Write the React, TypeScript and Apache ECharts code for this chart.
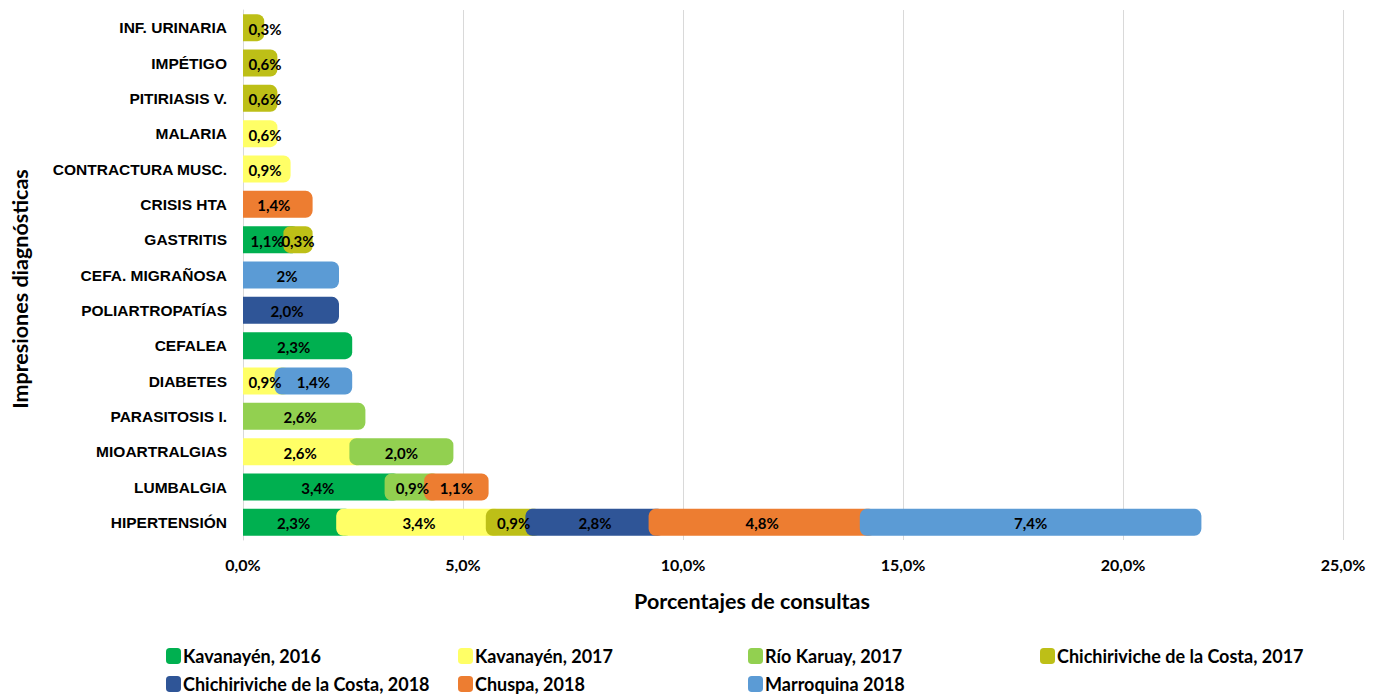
import React, { useEffect, useRef } from "react";
import * as echarts from "echarts";

const categories = [
  "HIPERTENSIÓN",
  "LUMBALGIA",
  "MIOARTRALGIAS",
  "PARASITOSIS I.",
  "DIABETES",
  "CEFALEA",
  "POLIARTROPATÍAS",
  "CEFA. MIGRAÑOSA",
  "GASTRITIS",
  "CRISIS HTA",
  "CONTRACTURA MUSC.",
  "MALARIA",
  "PITIRIASIS V.",
  "IMPÉTIGO",
  "INF. URINARIA",
];

const seriesNames = [
  "Kavanayén, 2016",
  "Kavanayén, 2017",
  "Río Karuay, 2017",
  "Chichiriviche de la Costa, 2017",
  "Chichiriviche de la Costa, 2018",
  "Chuspa, 2018",
  "Marroquina 2018",
];

const kavanayen2016 = [2.3, 3.4, null, null, null, 2.3, null, null, 1.1, null, null, null, null, null, null];
const kavanayen2017 = [3.4, null, 2.6, null, 0.9, null, null, null, null, null, 0.9, 0.6, null, null, null];
const rioKaruay2017 = [null, 0.9, 2.0, 2.6, null, null, null, null, null, null, null, null, null, null, null];
const chichiriviche2017 = [0.9, null, null, null, null, null, null, null, 0.3, null, null, null, 0.6, 0.6, 0.3];
const chichiriviche2018 = [2.8, null, null, null, null, null, 2.0, null, null, null, null, null, null, null, null];
const chuspa2018 = [4.8, 1.1, null, null, null, null, null, null, null, 1.4, null, null, null, null, null];
const marroquina2018 = [7.4, null, null, null, 1.4, null, null, 2.0, null, null, null, null, null, null, null];

// label text overrides (the source shows "2%" for this one)
const labelOverrides: Record<string, string> = {
  "Marroquina 2018|CEFA. MIGRAÑOSA": "2%",
};

const xTicks = { min: 0, max: 25, interval: 5 };

const colors = ["#00B050", "#FFFF66", "#92D050", "#BDBF17", "#2F5597", "#ED7D31", "#5B9BD5"];

const legendPos = [
  [166, 647],
  [458, 647],
  [748, 647],
  [1040, 647],
  [166, 675],
  [458, 675],
  [748, 675],
];

const allSeries = [
  kavanayen2016,
  kavanayen2017,
  rioKaruay2017,
  chichiriviche2017,
  chichiriviche2018,
  chuspa2018,
  marroquina2018,
];

const fmt = (v: number) => v.toFixed(1).replace(".", ",") + "%";

export default function App() {
  const ref = useRef<HTMLDivElement>(null);
  useEffect(() => {
    document.body.style.margin = "0";
    if (!ref.current) return;
    const chart = echarts.init(ref.current, null, { renderer: "svg" });

    const offsets = categories.map(() => 0);
    const series = allSeries.map((arr, si) => {
      const data: any[] = [];
      arr.forEach((v, ci) => {
        if (v != null) {
          const key = seriesNames[si] + "|" + categories[ci];
          data.push({ value: [v, ci, offsets[ci]], label: labelOverrides[key] || fmt(v) });
          offsets[ci] += v;
        }
      });
      return {
        type: "custom",
        name: seriesNames[si],
        itemStyle: { color: colors[si] },
        encode: { x: 0, y: 1 },
        data,
        renderItem: (params: any, api: any) => {
          const val = api.value(0) as number;
          const ci = api.value(1) as number;
          const start = api.value(2) as number;
          const p0 = api.coord([start, ci]);
          const p1 = api.coord([start + val, ci]);
          const axisX = api.coord([0, ci])[0];
          const h = 27;
          const ext = 8;
          const first = start === 0;
          const x0 = first ? p0[0] : p0[0] - ext;
          const x1 = p1[0] + ext;
          const item = data[params.dataIndex];
          const cx = Math.max((p0[0] + p1[0]) / 2, axisX + 22);
          return {
            type: "group",
            children: [
              {
                type: "rect",
                shape: { x: x0, y: p0[1] - h / 2, width: x1 - x0, height: h, r: first ? [0, 7, 7, 0] : 7 },
                style: { fill: colors[si] },
              },
              {
                type: "text",
                x: cx,
                y: p0[1] + 1,
                z2: 100,
                style: {
                  text: item.label,
                  fill: "#000",
                  font: "bold 15px Lato",
                  align: "center",
                  verticalAlign: "middle",
                  textAlign: "center",
                  textVerticalAlign: "middle",
                },
              },
            ],
          };
        },
      };
    });

    const legends = seriesNames.map((name, i) => ({
      data: [name],
      left: legendPos[i][0],
      top: legendPos[i][1],
      padding: 0,
      itemGap: 0,
      itemWidth: 15,
      itemHeight: 16,
      icon: "roundRect",
      selectedMode: false,
      textStyle: {
        fontFamily: "Lato",
        fontWeight: "bold",
        fontSize: 18,
        lineHeight: 18,
        color: "#000",
        padding: [0, 0, 0, -3],
      },
    }));

    chart.setOption({
      animation: false,
      backgroundColor: "#fff",
      grid: { left: 243, right: 37, top: 10, bottom: 156, containLabel: false },
      xAxis: {
        type: "value",
        min: xTicks.min,
        max: xTicks.max,
        interval: xTicks.interval,
        axisLine: { show: false },
        axisTick: { show: false },
        axisLabel: {
          formatter: (v: number) => fmt(v),
          fontFamily: "Lato",
          fontWeight: "bold",
          fontSize: 16,
          color: "#000",
          margin: 16,
        },
        splitLine: { show: true, lineStyle: { color: "#d9d9d9", width: 1 } },
      },
      yAxis: {
        type: "category",
        data: categories,
        axisTick: { show: false },
        axisLine: { show: true, lineStyle: { color: "#d9d9d9" } },
        axisLabel: {
          fontFamily: "Liberation Sans",
          fontWeight: "bold",
          fontSize: 15.5,
          color: "#000",
          margin: 16,
        },
        splitLine: { show: false },
      },
      legend: legends,
      graphic: [
        {
          type: "text",
          x: 20,
          y: 289,
          rotation: Math.PI / 2,
          style: {
            text: "Impresiones diagnósticas",
            font: "bold 21.5px Lato",
            fill: "#000",
            align: "center",
            verticalAlign: "middle",
            textAlign: "center",
            textVerticalAlign: "middle",
          },
        },
        {
          type: "text",
          x: 752,
          y: 601,
          style: {
            text: "Porcentajes de consultas",
            font: "bold 21.5px Lato",
            fill: "#000",
            align: "center",
            verticalAlign: "middle",
            textAlign: "center",
            textVerticalAlign: "middle",
          },
        },
      ],
      series,
    });
    return () => chart.dispose();
  }, []);
  return <div ref={ref} style={{ width: 1380, height: 696 }} />;
}
